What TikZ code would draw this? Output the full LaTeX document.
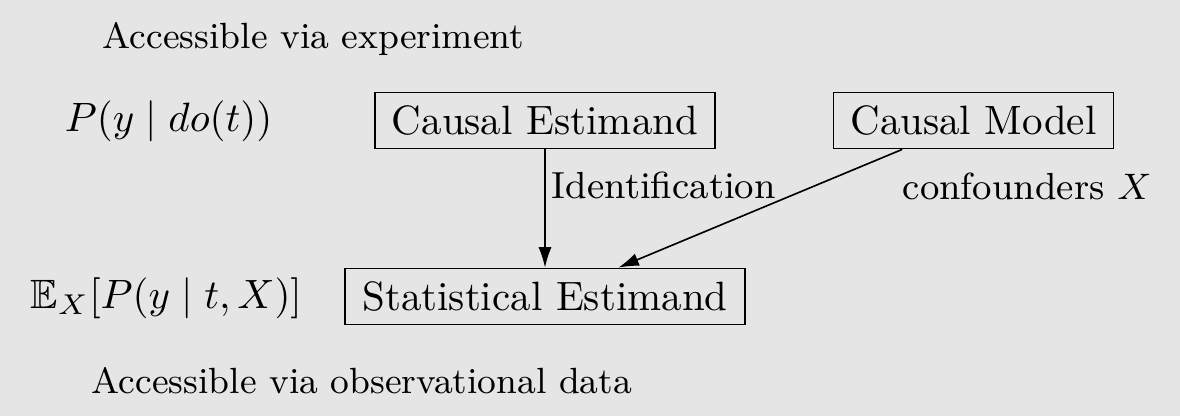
\documentclass[tikz,border=0pt]{standalone}
\usepackage{amssymb}
\usepackage{fontspec}
\usetikzlibrary{arrows.meta,calc}
\definecolor{bg}{RGB}{229,229,229}
\tikzset{
  estbox/.style={draw=black, line width=0.4pt, inner xsep=4.15pt, inner ysep=0pt,
    minimum height=13.7pt, text height=6.94pt, text depth=0pt, font=\fontsize{10}{12}\selectfont},
  lbl/.style={inner sep=0pt, anchor=base west, font=\fontsize{9.2}{11}\selectfont},
  acclbl/.style={inner sep=0pt, anchor=base west, font=\fontsize{8.9}{11}\selectfont},
  mathlbl/.style={inner sep=0pt, anchor=base west, font=\fontsize{10}{12}\selectfont},
  arr/.style={-{Latex[length=5pt,width=3.2pt]}, line width=0.4pt}
}
\begin{document}
\begin{tikzpicture}[x=0.244pt, y=-0.244pt]
  \fill[bg] (0,0) rectangle (1180,416);
  \useasboundingbox (0,0) rectangle (1180,416);

  \node[acclbl] (topl) at (102,48) {Accessible via experiment};
  \node[acclbl] (botl) at (91,393) {Accessible via observational data};

  \node[mathlbl] (pdo) at (64,131) {$P(y\mid do(t))$};
  \node[mathlbl] (ex) at (30,308) {$\mathbb{E}_X[P(y\mid t,X)]$};

  \node[estbox] (ce) at (545,120.5) {Causal Estimand};
  \node[estbox] (cm) at (973.5,120.5) {Causal Model};
  \node[estbox] (se) at (545,296.5) {Statistical Estimand};

  \draw[arr] (ce.south) -- (se.north);
  \draw[arr] ($(cm.south west)!0.247!(cm.south east)$) -- ($(se.north west)!0.683!(se.north east)$);

  \node[lbl] (ident) at (551,198) {Identification};
  \node[lbl] (conf) at (902,199) {confounders $X$};
\end{tikzpicture}
\end{document}
